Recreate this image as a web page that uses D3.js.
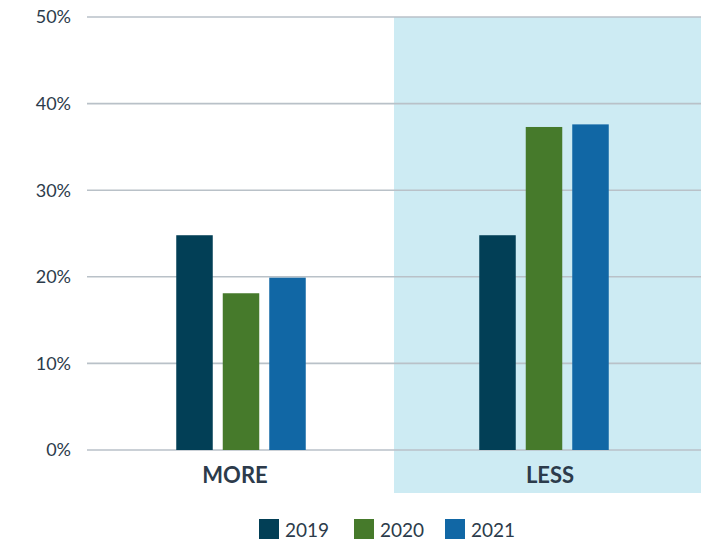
<!DOCTYPE html>
<html>
<head>
<meta charset="utf-8">
<script src="https://cdn.jsdelivr.net/npm/d3@7"></script>
<style>
  html, body { margin: 0; padding: 0; background: #fff; }
  svg { display: block; }
</style>
</head>
<body>
<svg id="chart" width="717" height="541"></svg>
<script>
const categories = ["MORE", "LESS"];
const seriesNames = ["2019", "2020", "2021"];
const values2019 = [24.8, 24.8];
const values2020 = [18.1, 37.3];
const values2021 = [19.9, 37.6];
const yTicks = [0, 10, 20, 30, 40, 50];
const seriesValues = [values2019, values2020, values2021];
const colors = ["#023f56", "#467a2b", "#1167a5"];

const svg = d3.select("#chart");
const plotLeft = 87, plotRight = 701, plotTop = 17, plotBottom = 450;
const textColor = "#2c3b4b";
const font = "Lato, 'Noto Sans', sans-serif";

const y = d3.scaleLinear().domain([0, 50]).range([plotBottom, plotTop]);
const xBand = d3.scaleBand().domain(categories).range([plotLeft, plotRight]);
const xCenter = d3.scalePoint().domain(categories).range([241, 544]);
const x1 = d3.scaleBand().domain(seriesNames).range([-64.75, 64.75]).paddingInner(0.215).paddingOuter(0);

// shaded background for LESS
svg.append("rect")
  .attr("x", xBand("LESS")).attr("y", plotTop)
  .attr("width", plotRight - xBand("LESS")).attr("height", 493 - plotTop)
  .attr("fill", "#cdebf3");

// gridlines
svg.append("g").selectAll("line").data(yTicks).join("line")
  .attr("x1", plotLeft).attr("x2", plotRight)
  .attr("y1", d => y(d)).attr("y2", d => y(d))
  .attr("stroke", "#b9c1c8").attr("stroke-width", 1.6);

// y tick labels
svg.append("g").selectAll("text").data(yTicks).join("text")
  .attr("x", 71).attr("y", d => y(d)).attr("dy", "0.36em")
  .attr("text-anchor", "end")
  .attr("font-family", font).attr("font-size", 18)
  .attr("fill", textColor)
  .text(d => d + "%");

// bars
const groups = svg.append("g").selectAll("g").data(categories).join("g")
  .attr("transform", d => `translate(${xCenter(d)},0)`);
groups.selectAll("rect")
  .data((c, ci) => seriesNames.map((s, si) => ({ s, v: seriesValues[si][ci], si })))
  .join("rect")
  .attr("x", d => x1(d.s)).attr("width", x1.bandwidth())
  .attr("y", d => y(d.v)).attr("height", d => y(0) - y(d.v))
  .attr("fill", d => colors[d.si]);

// category labels
svg.append("g").selectAll("text").data(categories).join("text")
  .attr("x", d => d === "MORE" ? 235 : 550).attr("y", 483)
  .attr("text-anchor", "middle")
  .attr("font-family", font).attr("font-weight", 700).attr("font-size", 22)
  .attr("fill", textColor)
  .text(d => d);

// legend
const legendX = [259, 354, 445];
const legend = svg.append("g").selectAll("g").data(seriesNames).join("g")
  .attr("transform", (d, i) => `translate(${legendX[i]},519)`);
legend.append("rect").attr("width", 20).attr("height", 20)
  .attr("fill", (d, i) => colors[i]);
legend.append("text").attr("x", 26).attr("y", 18)
  .attr("font-family", font).attr("font-size", 19)
  .attr("fill", textColor).text(d => d);
</script>
</body>
</html>
